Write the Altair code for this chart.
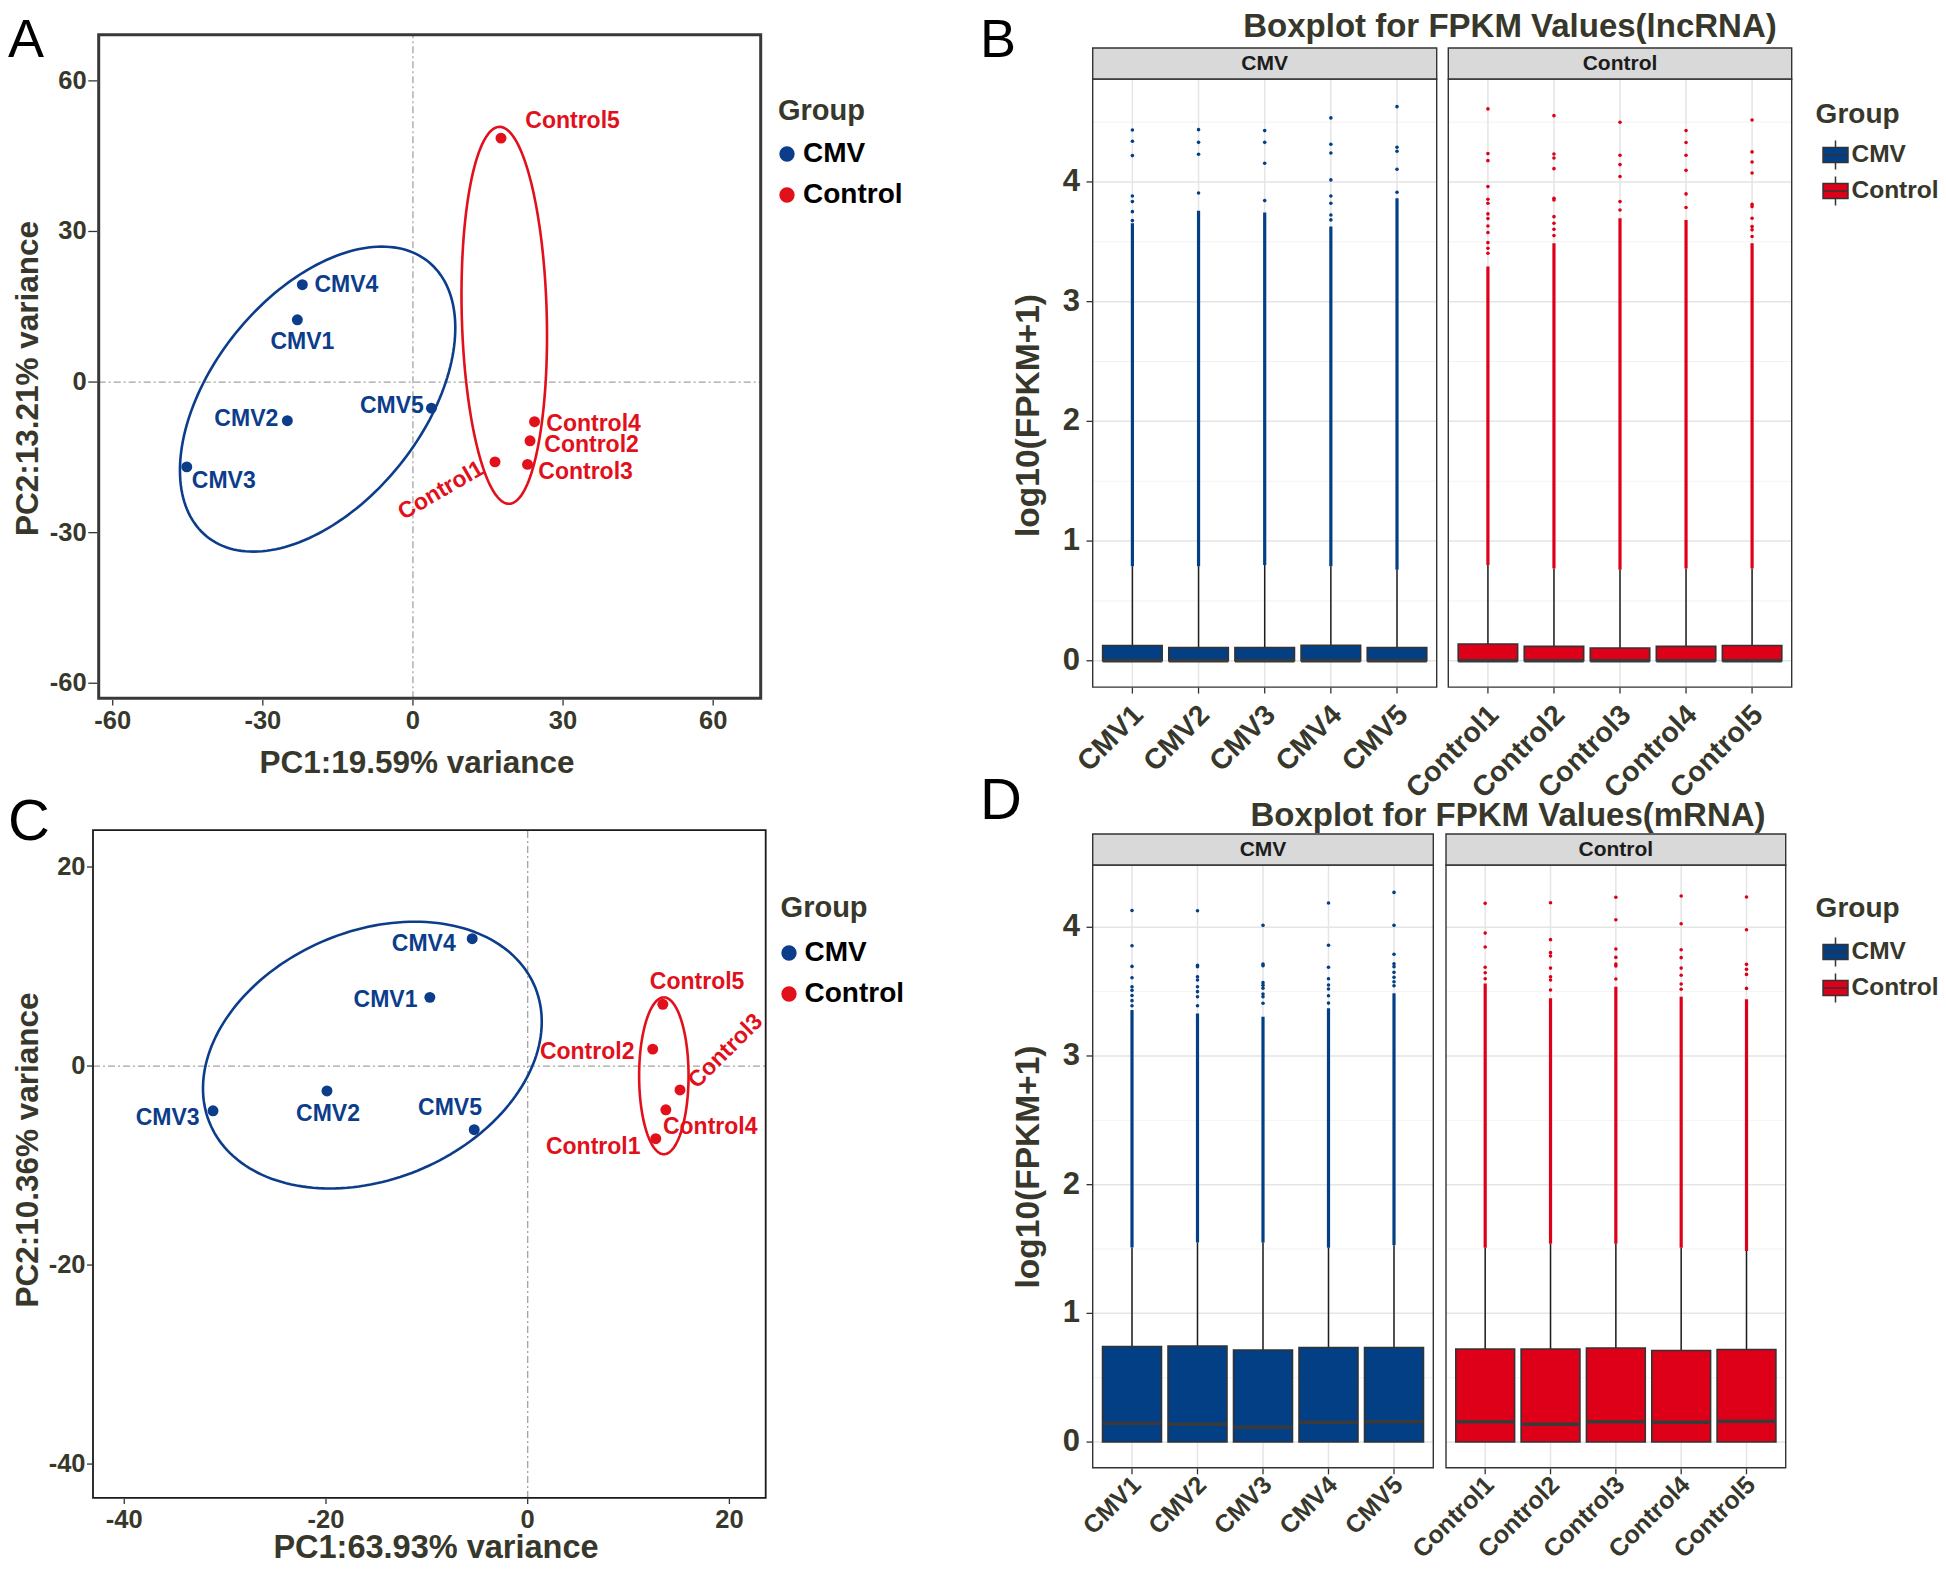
import numpy as np
import pandas as pd
import altair as alt

# ---------------- values ----------------
cmv_samples = ["CMV1", "CMV2", "CMV3", "CMV4", "CMV5"]
ctl_samples = ["Control1", "Control2", "Control3", "Control4", "Control5"]
samples = cmv_samples + ctl_samples
sample_group = ["CMV"] * 5 + ["Control"] * 5
group_names = ["CMV", "Control"]

# Panel A: PCA (lncRNA)
A_pc1 = [-23.1, -25.1, -45.2, -22.1, 3.7, 16.4, 23.4, 22.9, 24.3, 17.6]
A_pc2 = [12.4, -7.7, -16.9, 19.4, -5.2, -15.9, -11.7, -16.4, -7.9, 48.6]
A_lbl_x = [-22.1, -33.3, -37.8, -13.3, -4.2, 5.6, 35.7, 34.5, 36.1, 31.9]
A_lbl_y = [7.9, -7.4, -19.8, 19.3, -4.7, -21.6, -12.6, -17.9, -8.4, 52.1]
A_lbl_angle = [0, 0, 0, 0, 0, 330, 0, 0, 0, 0]
A_ell_cx = [-19.05, 18.25]
A_ell_cy = [-3.4, 13.3]
A_ell_a = [35.2, 37.56]
A_ell_b = [21.0, 8.49]
A_ell_theta = [51.0, 91.5]
A_xdom = [-62.8, 69.5]
A_ydom = [-63.0, 69.2]
A_ticks = [-60, -30, 0, 30, 60]
A_xtitle = "PC1:19.59% variance"
A_ytitle = "PC2:13.21% variance"

# Panel C: PCA (mRNA)
C_pc1 = [-9.7, -19.9, -31.2, -5.5, -5.3, 12.7, 12.4, 15.1, 13.7, 13.4]
C_pc2 = [6.9, -2.5, -4.5, 12.8, -6.4, -7.3, 1.7, -2.4, -4.4, 6.2]
C_lbl_x = [-14.1, -19.8, -35.7, -10.3, -7.7, 6.5, 5.9, 19.6, 18.1, 16.8]
C_lbl_y = [6.6, -4.8, -5.2, 12.3, -4.2, -8.1, 1.4, 1.5, -6.1, 8.4]
C_lbl_angle = [0, 0, 0, 0, 0, 0, 0, 315, 0, 0]
C_ell_cx = [-15.4, 13.5]
C_ell_cy = [1.1, -0.98]
C_ell_a = [17.52, 7.88]
C_ell_b = [12.44, 2.45]
C_ell_theta = [23.85, 90.0]
C_xdom = [-43.1, 23.6]
C_ydom = [-43.4, 23.7]
C_ticks = [-40, -20, 0, 20]
C_xtitle = "PC1:63.93% variance"
C_ytitle = "PC2:10.36% variance"

# Panel B: boxplot of log10(FPKM+1), lncRNA
B_title = "Boxplot for FPKM Values(lncRNA)"
B_q1 = [0.0] * 10
B_median = [0.0] * 10
B_q3 = [0.128, 0.11, 0.11, 0.13, 0.11, 0.14, 0.12, 0.107, 0.12, 0.128]
B_whisker = [0.79, 0.79, 0.80, 0.79, 0.76, 0.80, 0.77, 0.76, 0.77, 0.77]
B_dense_top = [3.655, 3.76, 3.744, 3.627, 3.864, 3.293, 3.488, 3.697, 3.683, 3.488]
B_outliers = {
    "CMV1": [4.434, 4.340, 4.22, 3.883, 3.836, 3.752, 3.677],
    "CMV2": [4.437, 4.331, 4.231, 3.908],
    "CMV3": [4.429, 4.331, 4.156, 3.844],
    "CMV4": [4.535, 4.315, 4.242, 4.017, 3.883, 3.822, 3.724, 3.683],
    "CMV5": [4.629, 4.29, 4.256, 4.106, 3.914],
    "Control1": [4.61, 4.237, 4.178, 3.961, 3.855, 3.822, 3.733, 3.694, 3.632, 3.577, 3.493, 3.446, 3.404],
    "Control2": [4.554, 4.234, 4.2, 4.111, 3.864, 3.85, 3.71, 3.655, 3.605, 3.552],
    "Control3": [4.499, 4.223, 4.145, 4.045, 3.836, 3.766],
    "Control4": [4.429, 4.329, 4.223, 4.097, 3.9, 3.786],
    "Control5": [4.518, 4.251, 4.167, 4.075, 3.813, 3.794, 3.697, 3.627, 3.6, 3.544],
}
B_ydom = [-0.22, 4.86]

# Panel D: boxplot of log10(FPKM+1), mRNA
D_title = "Boxplot for FPKM Values(mRNA)"
D_q1 = [0.0] * 10
D_median = [0.146, 0.138, 0.115, 0.154, 0.158, 0.158, 0.138, 0.158, 0.154, 0.162]
D_q3 = [0.742, 0.746, 0.715, 0.735, 0.735, 0.723, 0.723, 0.731, 0.712, 0.719]
D_whisker = [1.512, 1.55, 1.55, 1.51, 1.53, 1.51, 1.54, 1.54, 1.51, 1.485]
D_dense_top = [3.357, 3.331, 3.305, 3.37, 3.487, 3.564, 3.448, 3.538, 3.461, 3.44]
D_outliers = {
    "CMV1": [4.131, 3.857, 3.696, 3.608, 3.538, 3.51, 3.47, 3.43, 3.39],
    "CMV2": [4.129, 3.704, 3.694, 3.616, 3.59, 3.538, 3.5, 3.46, 3.39],
    "CMV3": [4.015, 3.715, 3.702, 3.57, 3.549, 3.526, 3.482, 3.46, 3.41],
    "CMV4": [4.189, 3.86, 3.689, 3.6, 3.551, 3.52, 3.468, 3.411],
    "CMV5": [4.271, 4.015, 3.79, 3.717, 3.694, 3.65, 3.611, 3.577, 3.546],
    "Control1": [4.186, 3.955, 3.847, 3.689, 3.647, 3.6],
    "Control2": [4.191, 3.904, 3.803, 3.777, 3.683, 3.616, 3.59, 3.513],
    "Control3": [4.233, 4.059, 3.831, 3.766, 3.715, 3.7, 3.598],
    "Control4": [4.243, 4.028, 3.826, 3.764, 3.683, 3.627, 3.559, 3.518],
    "Control5": [4.235, 3.981, 3.712, 3.673, 3.634, 3.525],
}
D_ydom = [-0.2, 4.484]

box_xdom = [0.4, 5.6]
box_yticks = [0, 1, 2, 3, 4]
box_yminor = [0.5, 1.5, 2.5, 3.5, 4.5]
box_ytitle = "log10(FPKM+1)"
legend_title = "Group"

# ---------------- layout and style (pixels inside the chart) ----------------
W, H = 1930, 1558
FONT = "Liberation Sans, Arial, Helvetica, sans-serif"
TXT = "#37382b"
BLUE = "#0c3d8b"
RED = "#e1101b"
BOX_BLUE = "#033f85"
BOX_RED = "#de0019"
DARK = "#333333"
BOX_HALF = 0.45
BOX_SYMBOL = "M-0.86,-0.52H0.86V0.52H-0.86Z M0,-1V-0.52 M0,0.52V1 M-0.86,0H0.86"

LAY = {
    "A": dict(x=[90.7, 752.7], y=[690.3, 26.7], frame_w=3, frame_c="#383838",
              xlab_y=721.3, xtick=(692.0, 697.5), ylab_x=78.7, ytick=(80.3, 89.2), lab_size=25.5,
              xtitle=(409, 765.3, 31.5), ytitle=(29.5, 370.5, 31.5),
              legend=dict(tx=770, ty=112.3, sx=779, lx=795, y0=146, dy=41)),
    "C": dict(x=[85, 757.7], y=[1489.9, 822.2], frame_w=1.8, frame_c="#1a1a1a",
              xlab_y=1519.5, xtick=(1490.8, 1496.0), ylab_x=77.5, ytick=(79.0, 84.1), lab_size=25.5,
              xtitle=(428, 1550, 32.5), ytitle=(29.5, 1142, 31.5),
              legend=dict(tx=772.6, ty=908.8, sx=781, lx=796.5, y0=945, dy=41)),
    "B": dict(xc=[1084.7, 1428.7], xk=[1440.3, 1783.7], y=[679.1, 71], strip=31,
              xlab_y=688.5, xlab_size=28.5, ylab_x=1072, ytick=(1078.5, 1084.7),
              ytitle=(1031, 407.5, 33.5), title=(1502, 29),
              legend=dict(tx=1807.6, ty=115, sx=1827.5, lx=1843.5, y0=147, dy=36)),
    "D": dict(xc=[1084.7, 1425.3], xk=[1438, 1777.7], y=[1459.8, 857], strip=31,
              xlab_y=1460.5, xlab_size=25, ylab_x=1072, ytick=(1078.5, 1084.7),
              ytitle=(1031, 1159, 33.5), title=(1500, 818),
              legend=dict(tx=1807.6, ty=909, sx=1827.5, lx=1843.5, y0=944, dy=36)),
}
XLAB_DX = -5.5
LETTERS = [("A", 0, 49, 54), ("B", 972, 49, 54), ("C", 0, 832, 58), ("D", 972, 811, 58)]


def text_layer(txt, x, y, size, weight="bold", color=TXT, align="center", angle=0,
               baseline="alphabetic"):
    return alt.Chart(pd.DataFrame({"t": [txt]})).mark_text(
        font=FONT, fontSize=size, fontWeight=weight, color=color, align=align,
        baseline=baseline, angle=angle).encode(x=alt.value(x), y=alt.value(y), text="t:N")


def ellipse_df(cx, cy, a, b, theta, grp, n=181):
    t = np.linspace(0, 2 * np.pi, n)
    th = np.deg2rad(theta)
    ex = cx + a * np.cos(t) * np.cos(th) - b * np.sin(t) * np.sin(th)
    ey = cy + a * np.cos(t) * np.sin(th) + b * np.sin(t) * np.cos(th)
    return pd.DataFrame({"ex": ex, "ey": ey, "i": np.arange(n), "group": grp})


def legend_layers(lg, colors, symbol, label_size, label_color, title_size):
    n = len(group_names)
    df = pd.DataFrame({"group": group_names, "sx": [lg["sx"]] * n,
                       "sy": [lg["y0"] + i * lg["dy"] for i in range(n)],
                       "lx": [lg["lx"]] * n})
    cs = alt.Scale(domain=group_names, range=colors)
    if symbol == "circle":
        sym = alt.Chart(df).mark_point(filled=True, size=235, opacity=1, shape="circle")
    else:
        sym = alt.Chart(df).mark_point(filled=True, size=841, opacity=1, shape=symbol,
                                       stroke=DARK, strokeWidth=1.5)
    sym = sym.encode(x=alt.X("sx:Q", scale=None), y=alt.Y("sy:Q", scale=None),
                     color=alt.Color("group:N", scale=cs, legend=None))
    lab = alt.Chart(df).mark_text(font=FONT, fontSize=label_size, fontWeight="bold",
                                  color=label_color, align="left", baseline="middle").encode(
        x=alt.X("lx:Q", scale=None), y=alt.Y("sy:Q", scale=None), text="group:N")
    ttl = text_layer(legend_title, lg["tx"], lg["ty"], title_size, align="left")
    return [sym, lab, ttl]


def pca_panel(key, pc1, pc2, lx, ly, lang, ell, xdom, ydom, ticks, xtitle, ytitle):
    lay = LAY[key]
    xs = alt.Scale(domain=xdom, range=lay["x"], nice=False, zero=False)
    ys = alt.Scale(domain=ydom, range=lay["y"], nice=False, zero=False)
    cs = alt.Scale(domain=group_names, range=[BLUE, RED])
    X = lambda f: alt.X(f, scale=xs, axis=None)
    Y = lambda f: alt.Y(f, scale=ys, axis=None)

    frame_df = pd.DataFrame({"x0": [xdom[0]], "x1": [xdom[1]], "y0": [ydom[0]], "y1": [ydom[1]]})
    frame = alt.Chart(frame_df).mark_rect(fillOpacity=0, stroke=lay["frame_c"],
                                          strokeWidth=lay["frame_w"]).encode(
        x=X("x0:Q"), x2="x1:Q", y=Y("y0:Q"), y2="y1:Q")

    zero_df = pd.DataFrame({"x0": [0, xdom[0]], "x1": [0, xdom[1]],
                            "y0": [ydom[0], 0], "y1": [ydom[1], 0]})
    zero = alt.Chart(zero_df).mark_rule(color="#a3a3a3", strokeWidth=1.3,
                                        strokeDash=[7, 3, 2, 3]).encode(
        x=X("x0:Q"), x2="x1:Q", y=Y("y0:Q"), y2="y1:Q")

    ell_df = pd.concat([ellipse_df(cx, cy, a, b, th, g)
                        for cx, cy, a, b, th, g in zip(*ell, group_names)], ignore_index=True)
    ell_layer = alt.Chart(ell_df).mark_line(strokeWidth=2.6).encode(
        x=X("ex:Q"), y=Y("ey:Q"), color=alt.Color("group:N", scale=cs, legend=None),
        detail="group:N", order="i:Q")

    pts_df = pd.DataFrame({"pc1": pc1, "pc2": pc2, "group": sample_group, "sample": samples,
                           "lx": lx, "ly": ly, "angle": lang})
    pts = alt.Chart(pts_df).mark_point(filled=True, size=120, opacity=1).encode(
        x=X("pc1:Q"), y=Y("pc2:Q"), color=alt.Color("group:N", scale=cs, legend=None))
    lbl = alt.Chart(pts_df).mark_text(font=FONT, fontSize=23, fontWeight="bold", align="center",
                                      baseline="middle").encode(
        x=X("lx:Q"), y=Y("ly:Q"), text="sample:N", angle=alt.Angle("angle:Q", scale=None),
        color=alt.Color("group:N", scale=cs, legend=None))

    tick_df = pd.DataFrame({"v": ticks, "label": [str(t) for t in ticks]})
    xt = alt.Chart(tick_df).mark_rule(color=DARK, strokeWidth=1.3).encode(
        x=X("v:Q"), y=alt.value(lay["xtick"][0]), y2=alt.value(lay["xtick"][1]))
    yt = alt.Chart(tick_df).mark_rule(color=DARK, strokeWidth=1.3).encode(
        y=Y("v:Q"), x=alt.value(lay["ytick"][0]), x2=alt.value(lay["ytick"][1]))
    xl = alt.Chart(tick_df).mark_text(font=FONT, fontSize=lay["lab_size"], fontWeight="bold",
                                      color=TXT, align="center", baseline="alphabetic").encode(
        x=X("v:Q"), y=alt.value(lay["xlab_y"]), text="label:N")
    yl = alt.Chart(tick_df).mark_text(font=FONT, fontSize=lay["lab_size"], fontWeight="bold",
                                      color=TXT, align="right", baseline="middle").encode(
        y=Y("v:Q"), x=alt.value(lay["ylab_x"]), text="label:N")
    tx, ty, tsz = lay["xtitle"]
    ux, uy, usz = lay["ytitle"]
    titles = [text_layer(xtitle, tx, ty, tsz), text_layer(ytitle, ux, uy, usz, angle=270)]
    legs = legend_layers(lay["legend"], [BLUE, RED], "circle", 28, "black", 29)
    return alt.layer(zero, ell_layer, pts, lbl, frame, xt, yt, xl, yl), titles + legs


def box_panel(key, which, names, grp, q1, med, q3, whi, dense, outliers, ydom):
    lay = LAY[key]
    xrange = lay["xc"] if which == 0 else lay["xk"]
    xs = alt.Scale(domain=box_xdom, range=xrange, nice=False, zero=False)
    ys = alt.Scale(domain=ydom, range=lay["y"], nice=False, zero=False)
    cs = alt.Scale(domain=group_names, range=[BOX_BLUE, BOX_RED])
    pos = list(range(1, len(names) + 1))
    px_per_unit = (lay["y"][0] - lay["y"][1]) / (ydom[1] - ydom[0])
    strip_units = lay["strip"] / px_per_unit
    X = lambda f: alt.X(f, scale=xs, axis=None)
    Y = lambda f: alt.Y(f, scale=ys, axis=None)
    col = alt.Color("group:N", scale=cs, legend=None)

    vgrid = pd.DataFrame({"x0": pos, "y0": [ydom[0]] * len(pos), "y1": [ydom[1]] * len(pos)})
    majors = [v for v in box_yticks if ydom[0] <= v <= ydom[1]]
    minors = [v for v in box_yminor if ydom[0] <= v <= ydom[1]]
    hmaj = pd.DataFrame({"y0": majors, "x0": [box_xdom[0]] * len(majors),
                         "x1": [box_xdom[1]] * len(majors)})
    hmin = pd.DataFrame({"y0": minors, "x0": [box_xdom[0]] * len(minors),
                         "x1": [box_xdom[1]] * len(minors)})
    g_v = alt.Chart(vgrid).mark_rule(color="#e5e5e5", strokeWidth=1.5).encode(
        x=X("x0:Q"), y=Y("y0:Q"), y2="y1:Q")
    g_maj = alt.Chart(hmaj).mark_rule(color="#e5e5e5", strokeWidth=1.5).encode(
        x=X("x0:Q"), x2="x1:Q", y=Y("y0:Q"))
    g_min = alt.Chart(hmin).mark_rule(color="#f1f1f1", strokeWidth=0.9).encode(
        x=X("x0:Q"), x2="x1:Q", y=Y("y0:Q"))

    box_df = pd.DataFrame({"pos": pos, "bx0": [p - BOX_HALF for p in pos],
                           "bx1": [p + BOX_HALF for p in pos], "q1": q1, "med": med, "q3": q3,
                           "whi": whi, "dense": dense, "group": grp, "sample": names})
    out_rows = [(p, v, grp) for p, n in zip(pos, names) for v in outliers[n]]
    out_df = pd.DataFrame(out_rows, columns=["pos", "val", "group"])

    whisk = alt.Chart(box_df).mark_rule(color="#1e1e1e", strokeWidth=1.5).encode(
        x=X("pos:Q"), y=Y("q3:Q"), y2="whi:Q")
    dense_l = alt.Chart(box_df).mark_rule(strokeWidth=3.2).encode(
        x=X("pos:Q"), y=Y("whi:Q"), y2="dense:Q", color=col)
    pts = alt.Chart(out_df).mark_point(filled=True, size=13, opacity=1).encode(
        x=X("pos:Q"), y=Y("val:Q"), color=col)
    boxes = alt.Chart(box_df).mark_rect(stroke=DARK, strokeWidth=1.6, opacity=1).encode(
        x=X("bx0:Q"), x2="bx1:Q", y=Y("q1:Q"), y2="q3:Q", color=col)
    meds = alt.Chart(box_df).mark_rule(color="#3a3a3a", strokeWidth=3.5).encode(
        x=X("bx0:Q"), x2="bx1:Q", y=Y("med:Q"))

    frame_df = pd.DataFrame({"x0": [box_xdom[0]], "x1": [box_xdom[1]], "y0": [ydom[0]],
                             "y1": [ydom[1]], "s1": [ydom[1] + strip_units],
                             "sm": [ydom[1] + strip_units / 2], "xm": [sum(box_xdom) / 2],
                             "label": [grp]})
    border = alt.Chart(frame_df).mark_rect(fillOpacity=0, stroke=DARK, strokeWidth=1.4).encode(
        x=X("x0:Q"), x2="x1:Q", y=Y("y0:Q"), y2="y1:Q")
    strip = alt.Chart(frame_df).mark_rect(fill="#d9d9d9", stroke=DARK, strokeWidth=1.4).encode(
        x=X("x0:Q"), x2="x1:Q", y=Y("y1:Q"), y2="s1:Q")
    strip_t = alt.Chart(frame_df).mark_text(font=FONT, fontSize=21, fontWeight="bold",
                                            color="#1c1c1c", baseline="middle").encode(
        x=X("xm:Q"), y=Y("sm:Q"), text="label:N")

    bottom = lay["y"][0]
    xtick_df = pd.DataFrame({"pos": pos, "label": names})
    xt = alt.Chart(xtick_df).mark_rule(color=DARK, strokeWidth=1.3).encode(
        x=X("pos:Q"), y=alt.value(bottom + 0.7), y2=alt.value(bottom + 6.5))
    xl = alt.Chart(xtick_df).mark_text(font=FONT, fontSize=lay["xlab_size"], fontWeight="bold",
                                       color=TXT, align="right", baseline="top", angle=315,
                                       dx=XLAB_DX).encode(
        x=X("pos:Q"), y=alt.value(lay["xlab_y"]), text="label:N")
    layers = [g_min, g_maj, g_v, whisk, dense_l, pts, boxes, meds, border, strip, strip_t, xt, xl]
    if which == 0:
        ytick_df = pd.DataFrame({"v": majors, "label": [str(v) for v in majors]})
        yt = alt.Chart(ytick_df).mark_rule(color=DARK, strokeWidth=1.3).encode(
            y=Y("v:Q"), x=alt.value(lay["ytick"][0]), x2=alt.value(lay["ytick"][1]))
        yl = alt.Chart(ytick_df).mark_text(font=FONT, fontSize=31, fontWeight="bold", color=TXT,
                                           align="right", baseline="middle").encode(
            y=Y("v:Q"), x=alt.value(lay["ylab_x"]), text="label:N")
        layers += [yt, yl]
    return alt.layer(*layers)


def box_figure(key, title, q1, med, q3, whi, dense, outliers, ydom):
    lay = LAY[key]
    left = box_panel(key, 0, cmv_samples, "CMV", q1[:5], med[:5], q3[:5], whi[:5], dense[:5],
                     outliers, ydom)
    right = box_panel(key, 1, ctl_samples, "Control", q1[5:], med[5:], q3[5:], whi[5:],
                      dense[5:], outliers, ydom)
    ux, uy, usz = lay["ytitle"]
    extras = [text_layer(box_ytitle, ux, uy, usz, angle=270),
              text_layer(title, lay["title"][0], lay["title"][1], 33)]
    extras += legend_layers(lay["legend"], [BOX_BLUE, BOX_RED], BOX_SYMBOL, 24.5, TXT, 28)
    return alt.layer(left, right).resolve_scale(x="independent"), extras


A, A_extra = pca_panel("A", A_pc1, A_pc2, A_lbl_x, A_lbl_y, A_lbl_angle,
                       (A_ell_cx, A_ell_cy, A_ell_a, A_ell_b, A_ell_theta), A_xdom, A_ydom,
                       A_ticks, A_xtitle, A_ytitle)
C, C_extra = pca_panel("C", C_pc1, C_pc2, C_lbl_x, C_lbl_y, C_lbl_angle,
                       (C_ell_cx, C_ell_cy, C_ell_a, C_ell_b, C_ell_theta), C_xdom, C_ydom,
                       C_ticks, C_xtitle, C_ytitle)
B, B_extra = box_figure("B", B_title, B_q1, B_median, B_q3, B_whisker, B_dense_top,
                        B_outliers, B_ydom)
D, D_extra = box_figure("D", D_title, D_q1, D_median, D_q3, D_whisker, D_dense_top,
                        D_outliers, D_ydom)

letters = [text_layer(t, x, y, s, weight="normal", color="black", align="left")
           for t, x, y, s in LETTERS]

chart = alt.layer(A, C, B, D, *A_extra, *C_extra, *B_extra, *D_extra, *letters).resolve_scale(
    x="independent", y="independent", color="independent"
).properties(
    width=W, height=H, padding=0, background="white",
    autosize=alt.AutoSizeParams(type="none")
).configure_view(stroke=None)

chart.save("out.html", embed_options={"renderer": "svg", "actions": False})
